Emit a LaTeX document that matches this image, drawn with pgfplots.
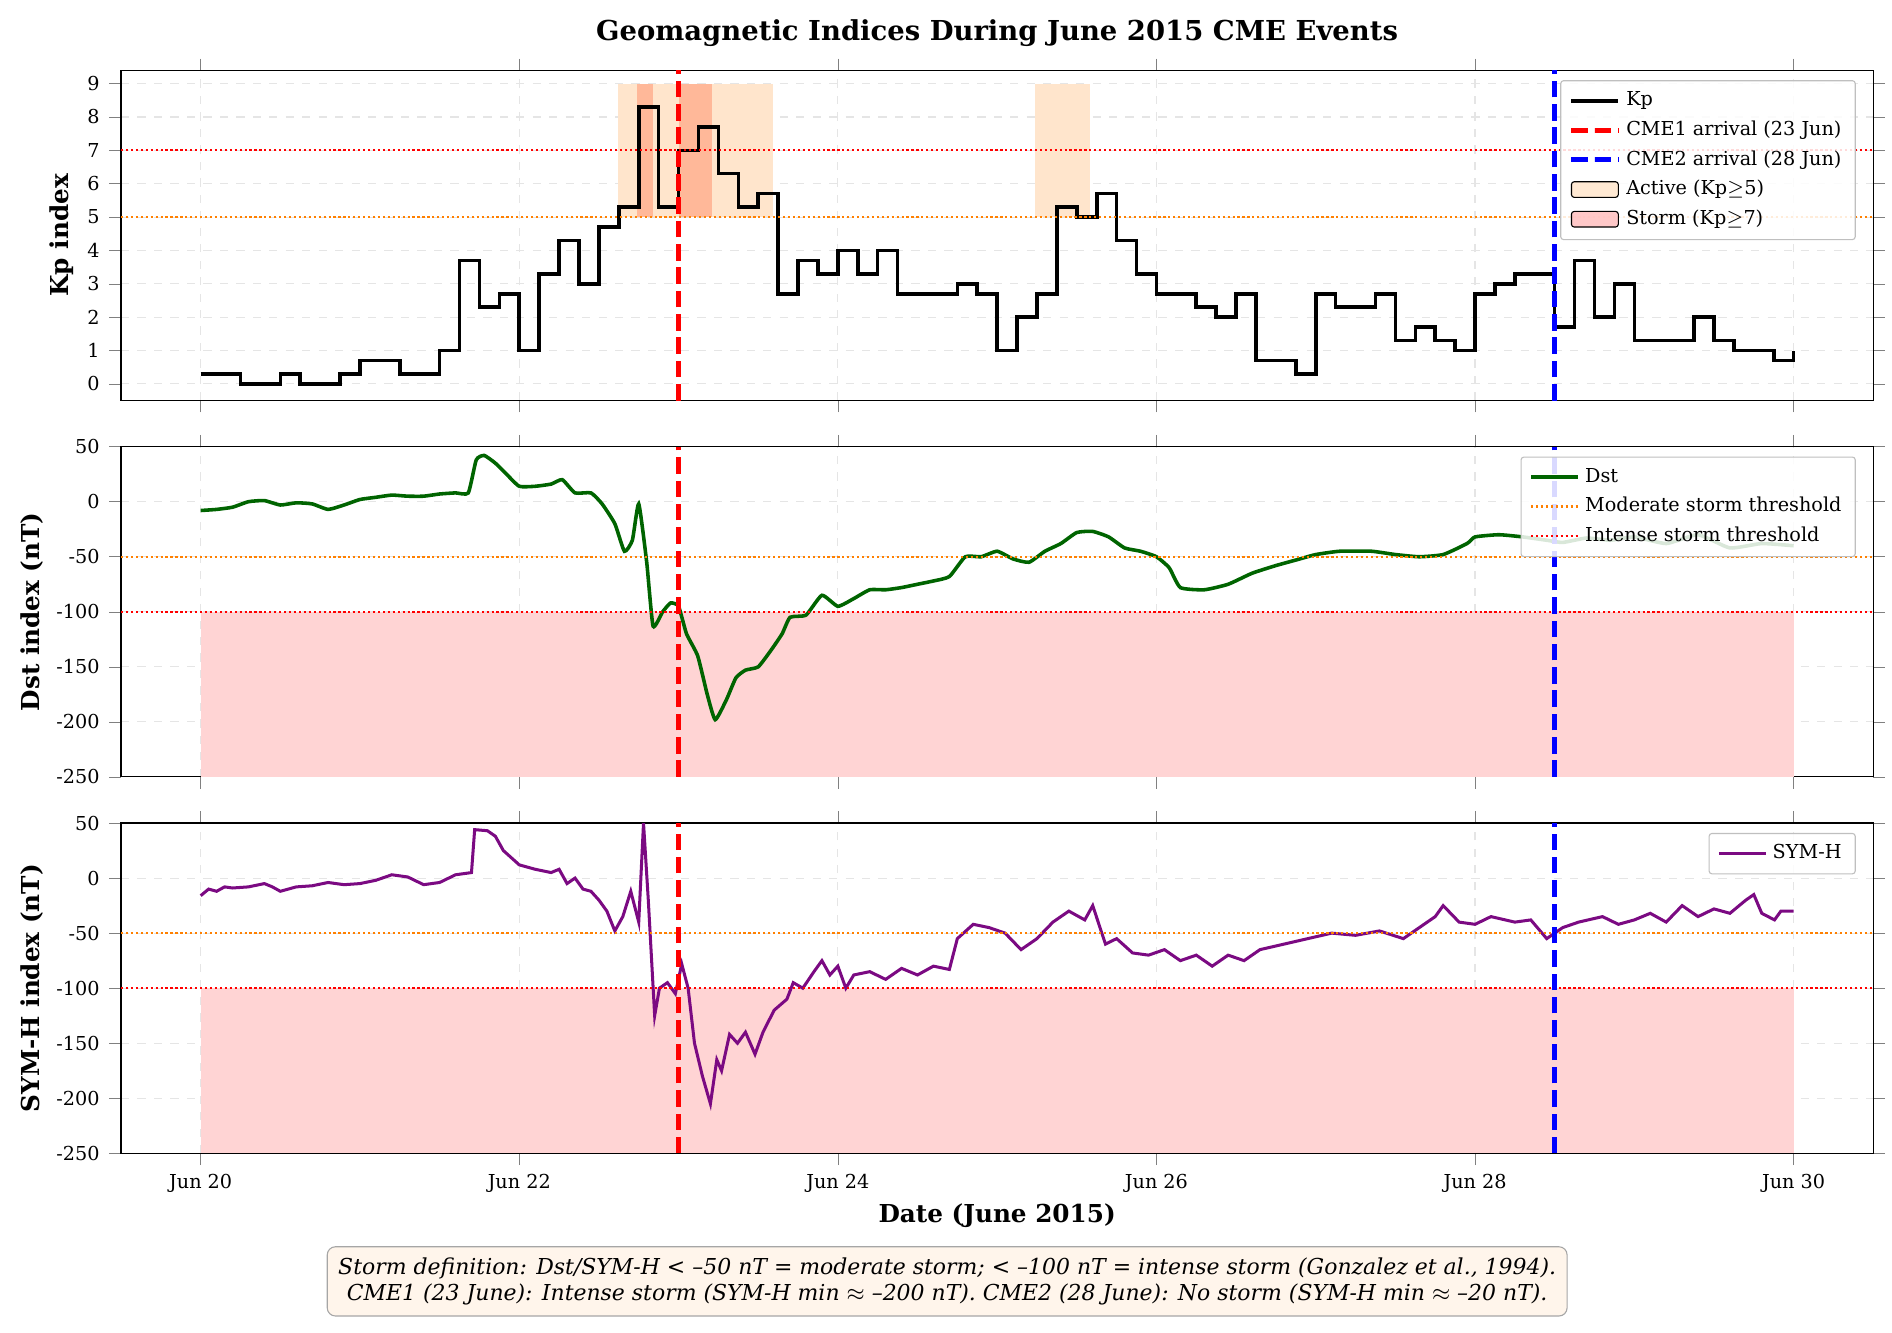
\documentclass[border=0pt]{standalone}
\usepackage{pgfplots}
\pgfplotsset{compat=1.18}
\usepackage{fontspec}
\setmainfont{DejaVu Serif}
\definecolor{dgreen}{HTML}{006400}
\definecolor{purp}{HTML}{7B0A82}
\begin{document}
\begin{tikzpicture}
\tikzset{cme/.style={dash pattern=on 6pt off 2.5pt, line width=1.8pt}}
\pgfplotsset{
  every axis/.style={scale only axis, width=22.44cm, height=4.23cm, xmin=19.5, xmax=30.5,
    grid=major, major grid style={dashed, gray!20}, tick align=outside,
    /pgf/number format/assume math mode=true, tick label style={font=\scriptsize},
    xtick={20,22,24,26,28,30}, xticklabels={},
    ylabel style={font=\small\bfseries}, ylabel shift=-2pt,
    legend style={font=\scriptsize, draw=gray!50, rounded corners=1pt, fill=white, fill opacity=0.85, text opacity=1, cells={anchor=west}, at={(0.99,0.97)}, anchor=north east},
  }
}
% ---------- Kp ----------
\begin{axis}[name=kp, at={(0,11.93cm)}, ymin=-0.5, ymax=9.4, ytick={0,...,9}, ylabel={Kp index}]
\fill[orange!20] (axis cs:22.62,5) rectangle (axis cs:23.59,9);
\fill[orange!20] (axis cs:25.24,5) rectangle (axis cs:25.58,9);
\fill[red!40!orange!40] (axis cs:22.74,5) rectangle (axis cs:22.84,9);
\fill[red!40!orange!40] (axis cs:23.0,5) rectangle (axis cs:23.21,9);
\addlegendimage{black, line width=1.3pt}
\addlegendentry{Kp}
\addplot[black, line width=1.3pt, const plot, forget plot] coordinates {
(20.0,0.3)(20.125,0.3)(20.25,0.0)(20.375,0.0)(20.5,0.3)(20.625,0.0)(20.75,0.0)(20.875,0.3)
(21.0,0.7)(21.125,0.7)(21.25,0.3)(21.375,0.3)(21.5,1.0)(21.625,3.7)(21.75,2.3)(21.875,2.7)
(22.0,1.0)(22.125,3.3)(22.25,4.3)(22.375,3.0)(22.5,4.7)(22.625,5.3)(22.75,8.3)(22.875,5.3)
(23.0,7.0)(23.125,7.7)(23.25,6.3)(23.375,5.3)(23.5,5.7)(23.625,2.7)(23.75,3.7)(23.875,3.3)
(24.0,4.0)(24.125,3.3)(24.25,4.0)(24.375,2.7)(24.5,2.7)(24.625,2.7)(24.75,3.0)(24.875,2.7)
(25.0,1.0)(25.125,2.0)(25.25,2.7)(25.375,5.3)(25.5,5.0)(25.625,5.7)(25.75,4.3)(25.875,3.3)
(26.0,2.7)(26.125,2.7)(26.25,2.3)(26.375,2.0)(26.5,2.7)(26.625,0.7)(26.75,0.7)(26.875,0.3)
(27.0,2.7)(27.125,2.3)(27.25,2.3)(27.375,2.7)(27.5,1.3)(27.625,1.7)(27.75,1.3)(27.875,1.0)
(28.0,2.7)(28.125,3.0)(28.25,3.3)(28.375,3.3)(28.5,1.7)(28.625,3.7)(28.75,2.0)(28.875,3.0)
(29.0,1.3)(29.125,1.3)(29.25,1.3)(29.375,2.0)(29.5,1.3)(29.625,1.0)(29.75,1.0)(29.875,0.7)
(30.0,1.0)};
\addplot[red, cme] coordinates {(23,-0.5)(23,9.4)};
\addlegendentry{CME1 arrival (23 Jun)}
\addplot[blue, cme] coordinates {(28.5,-0.5)(28.5,9.4)};
\addlegendentry{CME2 arrival (28 Jun)}
\addlegendimage{area legend, fill=orange!20, draw=none}
\addlegendentry{Active (Kp$\geq$5)}
\addlegendimage{area legend, fill=red!25, draw=none}
\addlegendentry{Storm (Kp$\geq$7)}
\draw[red, densely dotted, thick] (axis cs:19.5,7) -- (axis cs:30.5,7);
\draw[orange, densely dotted, thick] (axis cs:19.5,5) -- (axis cs:30.5,5);
\end{axis}
% ---------- Dst ----------
\begin{axis}[name=dst, at={(0,7.11cm)}, ymin=-250, ymax=50, ytick={-250,-200,...,50}, ylabel={Dst index (nT)}]
\fill[red!17] (axis cs:20,-250) rectangle (axis cs:30,-100);
\addplot[dgreen, line width=1.3pt, smooth, tension=0.3] coordinates {
(20.0,-8)(20.1,-7)(20.2,-5)(20.3,0)(20.4,1)(20.5,-3)(20.6,-1)(20.7,-2)(20.8,-7)(20.9,-3)(21.0,2)(21.1,4)(21.2,6)(21.3,5)(21.4,5)(21.5,7)(21.6,8)(21.68,8)
(21.73,38)(21.78,42)(21.85,35)(21.92,25)(22.0,14)(22.1,14)(22.2,16)(22.27,20)(22.35,8)(22.45,8)(22.52,-2)(22.6,-20)(22.66,-45)(22.71,-35)
(22.75,-2)(22.8,-55)(22.84,-113)(22.9,-100)(22.95,-92)(23.0,-95)(23.05,-120)(23.12,-140)(23.18,-175)(23.23,-198)(23.3,-180)(23.36,-160)
(23.42,-153)(23.5,-150)(23.58,-135)(23.65,-120)(23.7,-105)(23.8,-103)(23.9,-85)(24.0,-95)(24.1,-88)(24.2,-80)(24.3,-80)(24.4,-78)(24.5,-75)
(24.6,-72)(24.7,-68)(24.8,-50)(24.9,-50)(25.0,-45)(25.1,-52)(25.2,-55)(25.3,-45)(25.4,-38)(25.5,-28)(25.6,-27)(25.7,-32)(25.8,-42)
(25.9,-45)(26.0,-50)(26.08,-60)(26.15,-78)(26.3,-80)(26.45,-75)(26.6,-65)(26.75,-58)(26.9,-52)(27.0,-48)(27.15,-45)(27.35,-45)
(27.5,-48)(27.65,-50)(27.8,-48)(27.95,-38)(28.0,-32)(28.15,-30)(28.3,-32)(28.45,-35)(28.55,-37)(28.7,-33)(28.85,-35)(29.0,-32)
(29.2,-38)(29.4,-30)(29.6,-42)(29.8,-38)(30.0,-40)};
\addlegendentry{Dst}
\addplot[orange, densely dotted, thick] coordinates {(19.5,-50)(30.5,-50)};
\addlegendentry{Moderate storm threshold}
\addplot[red, densely dotted, thick] coordinates {(19.5,-100)(30.5,-100)};
\addlegendentry{Intense storm threshold}
\draw[red, cme] (axis cs:23,-250) -- (axis cs:23,50);
\draw[blue, cme] (axis cs:28.5,-250) -- (axis cs:28.5,50);
\end{axis}
% ---------- SYM-H ----------
\begin{axis}[name=sym, at={(0,2.29cm)}, ymin=-250, ymax=50, ytick={-250,-200,...,50}, ylabel={SYM-H index (nT)},
  xticklabels={Jun 20,Jun 22,Jun 24,Jun 26,Jun 28,Jun 30}, xlabel={Date (June 2015)}, xlabel style={font=\small\bfseries, yshift=3pt}]
\fill[red!17] (axis cs:20,-250) rectangle (axis cs:30,-100);
\addplot[purp, line width=1.1pt] coordinates {
(20.0,-16)(20.05,-10)(20.1,-12)(20.15,-8)(20.2,-9)(20.3,-8)(20.4,-5)(20.45,-8)(20.5,-12)(20.6,-8)(20.7,-7)(20.8,-4)(20.9,-6)
(21.0,-5)(21.1,-2)(21.2,3)(21.3,1)(21.4,-6)(21.5,-4)(21.6,3)(21.7,5)(21.72,44)(21.8,43)(21.85,38)(21.9,25)(22.0,12)(22.1,8)(22.2,5)
(22.25,8)(22.3,-5)(22.35,0)(22.4,-10)(22.45,-12)(22.5,-20)(22.55,-30)(22.6,-48)(22.65,-35)(22.7,-12)(22.75,-40)(22.78,50)
(22.81,-20)(22.85,-125)(22.88,-100)(22.93,-95)(22.98,-105)(23.02,-78)(23.06,-100)(23.1,-150)(23.15,-180)(23.2,-205)(23.24,-165)
(23.27,-175)(23.32,-142)(23.37,-150)(23.42,-140)(23.48,-160)(23.53,-140)(23.6,-120)(23.68,-110)(23.72,-95)(23.78,-100)(23.85,-85)
(23.9,-75)(23.95,-88)(24.0,-80)(24.05,-100)(24.1,-88)(24.2,-85)(24.3,-92)(24.4,-82)(24.5,-88)(24.6,-80)(24.7,-83)(24.75,-55)
(24.85,-42)(24.95,-45)(25.05,-50)(25.15,-65)(25.25,-55)(25.35,-40)(25.45,-30)(25.55,-38)(25.6,-25)(25.68,-60)(25.75,-55)
(25.85,-68)(25.95,-70)(26.05,-65)(26.15,-75)(26.25,-70)(26.35,-80)(26.45,-70)(26.55,-75)(26.65,-65)(26.8,-60)(26.95,-55)
(27.1,-50)(27.25,-52)(27.4,-48)(27.55,-55)(27.65,-45)(27.75,-35)(27.8,-25)(27.9,-40)(28.0,-42)(28.1,-35)(28.25,-40)
(28.35,-38)(28.45,-55)(28.55,-45)(28.65,-40)(28.8,-35)(28.9,-42)(29.0,-38)(29.1,-32)(29.2,-40)(29.3,-25)(29.4,-35)
(29.5,-28)(29.6,-32)(29.7,-20)(29.75,-15)(29.8,-32)(29.88,-38)(29.92,-30)(30.0,-30)};
\addlegendentry{SYM-H}
\draw[orange, densely dotted, thick] (axis cs:19.5,-50) -- (axis cs:30.5,-50);
\draw[red, densely dotted, thick] (axis cs:19.5,-100) -- (axis cs:30.5,-100);
\draw[red, cme] (axis cs:23,-250) -- (axis cs:23,50);
\draw[blue, cme] (axis cs:28.5,-250) -- (axis cs:28.5,50);
\end{axis}
\node[font=\normalsize\bfseries] at (11.22cm,16.64cm) {Geomagnetic Indices During June 2015 CME Events};
\node[draw=gray!70, fill=orange!8, rounded corners=3pt, align=center, font=\footnotesize\itshape, inner sep=4pt] at (10.58cm,0.65cm)
 {Storm definition: Dst/SYM-H < --50 nT = moderate storm; < --100 nT = intense storm (Gonzalez et al., 1994).\\
  CME1 (23 June): Intense storm (SYM-H min $\approx$ --200 nT). CME2 (28 June): No storm (SYM-H min $\approx$ --20 nT).};
\path (-1.55cm,17.06cm) rectangle (22.68cm,0cm);
\end{tikzpicture}
\end{document}
